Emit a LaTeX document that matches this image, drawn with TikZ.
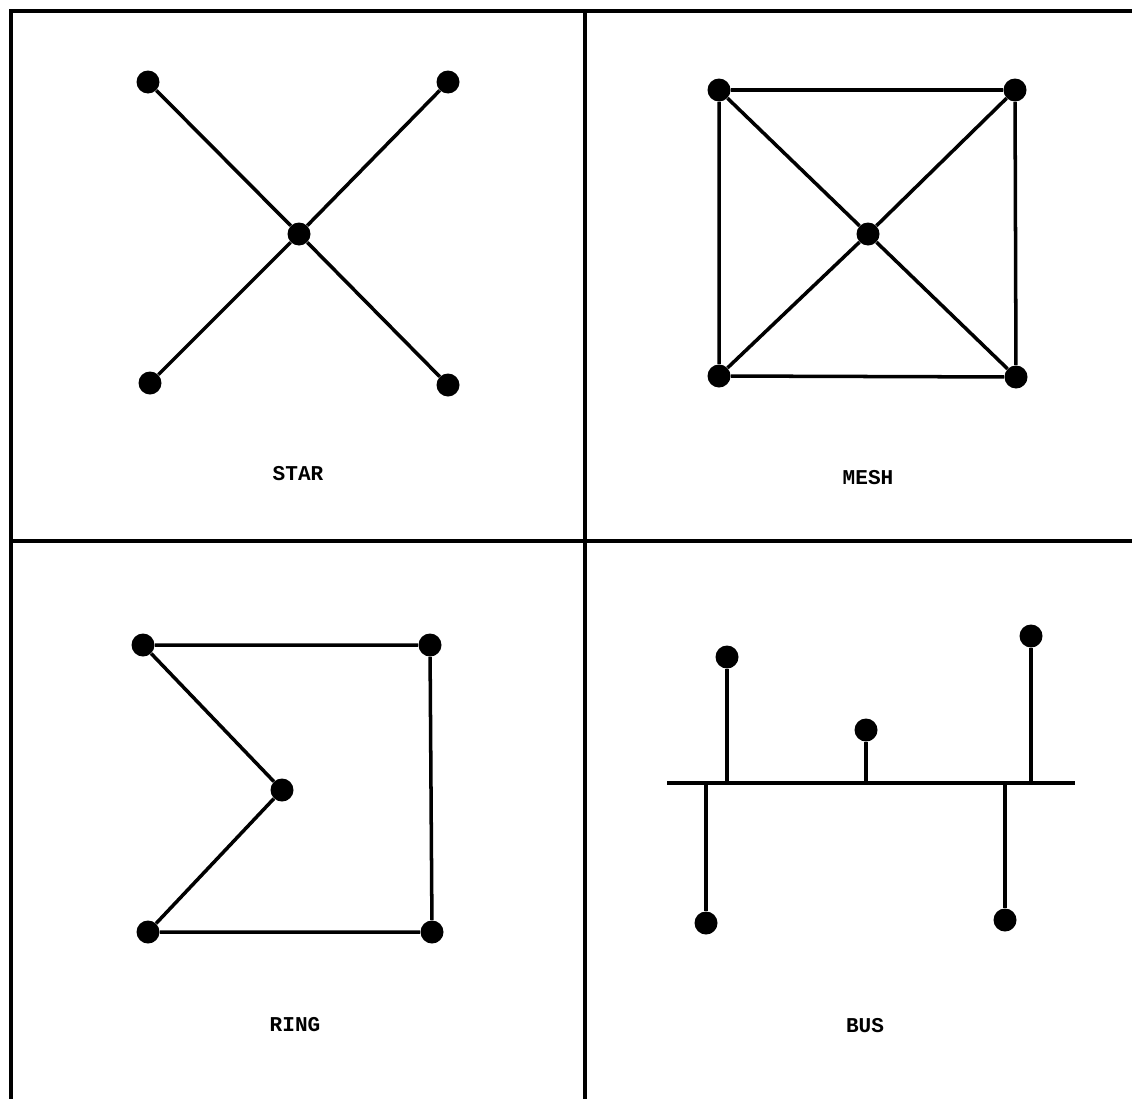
\documentclass[tikz,border=0pt]{standalone}
\usepackage{fontspec}
\setmonofont{Liberation Mono}
\usepackage{tikz}

\begin{document}
\begin{tikzpicture}[
			x=0.02cm, y=-0.02cm,
			station/.style={
				circle,
				fill=black,
				inner sep=0pt,
				minimum size=0.46cm
			},
			link/.style={
				draw=black,
				line width=2pt
			},
			frameline/.style={
				draw=black,
				line width=2.6pt
			},
			caption/.style={
				font=\fontsize{12}{14}\selectfont\ttfamily\bfseries
			}
		]
			\useasboundingbox (0,0) rectangle (1132,1099);
			
			% frame and panel dividers
			\draw[frameline] (1132,11) -- (11,11) -- (11,1099);
			\draw[frameline] (585,11) -- (585,1099);
			\draw[frameline] (11,541) -- (1132,541);
			
			% star
			\node[station] (starhub) at (299,234) {};
			\node[station] (starnw) at (148,82) {};
			\node[station] (starne) at (448,82) {};
			\node[station] (starsw) at (150,383) {};
			\node[station] (starse) at (448,385) {};
			\draw[link] (starnw) -- (starhub) -- (starse);
			\draw[link] (starne) -- (starhub) -- (starsw);
			\node[caption] (starlabel) at (298,474) {STAR};
			
			% mesh
			\node[station] (meshhub) at (868,234) {};
			\node[station] (meshnw) at (719,90) {};
			\node[station] (meshne) at (1015,90) {};
			\node[station] (meshsw) at (719,376) {};
			\node[station] (meshse) at (1016,377) {};
			\draw[link] (meshnw) -- (meshne) -- (meshse) -- (meshsw) -- (meshnw);
			\draw[link] (meshnw) -- (meshhub) -- (meshse);
			\draw[link] (meshne) -- (meshhub) -- (meshsw);
			\node[caption] (meshlabel) at (868,478) {MESH};
			
			% ring
			\node[station] (ringnw) at (143,645) {};
			\node[station] (ringne) at (430,645) {};
			\node[station] (ringmid) at (282,790) {};
			\node[station] (ringsw) at (148,932) {};
			\node[station] (ringse) at (432,932) {};
			\draw[link] (ringnw) -- (ringne) -- (ringse) -- (ringsw) -- (ringmid) -- (ringnw);
			\node[caption] (ringlabel) at (295,1025) {RING};
			
			% bus
			\coordinate (busleft) at (667,783);
			\coordinate (busright) at (1075,783);
			\draw[link] (busleft) -- (busright);
			\node[station] (busa) at (727,657) {};
			\node[station] (busb) at (866,730) {};
			\node[station] (busc) at (1031,636) {};
			\node[station] (busd) at (706,923) {};
			\node[station] (buse) at (1005,920) {};
			\draw[link] (busa) -- (busa |- busleft);
			\draw[link] (busb) -- (busb |- busleft);
			\draw[link] (busc) -- (busc |- busleft);
			\draw[link] (busd) -- (busd |- busleft);
			\draw[link] (buse) -- (buse |- busleft);
			\node[caption] (buslabel) at (865,1026) {BUS};
			
		\end{tikzpicture}
\end{document}
